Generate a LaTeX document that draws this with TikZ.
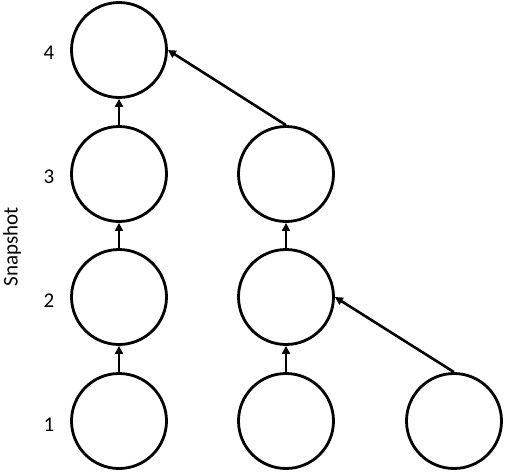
\documentclass[tikz,border=0pt]{standalone}
\usepackage{fontspec}
\setmainfont{Carlito}
\usetikzlibrary{arrows.meta}
\begin{document}
\begin{tikzpicture}[x=1pt,y=-1pt,
  snap/.style={draw=black,line width=2.8pt,circle,minimum size=95pt,inner sep=0pt},
  link/.style={line width=2.6pt,-{Triangle[length=8pt,width=8pt]}},
  lbl/.style={font=\fontsize{21}{24}\selectfont,inner sep=0pt}]
\useasboundingbox (0,0) rectangle (505,474);
\node[snap] (a4) at (119,50) {};
\node[snap] (a3) at (119,174) {};
\node[snap] (a2) at (119,297) {};
\node[snap] (a1) at (119,421) {};
\node[snap] (b3) at (286,174) {};
\node[snap] (b2) at (286,297) {};
\node[snap] (b1) at (286,421) {};
\node[snap] (c1) at (454,421) {};
\node[lbl] (l4) at (49,53) {4};
\node[lbl] (l3) at (49,177) {3};
\node[lbl] (l2) at (49,301) {2};
\node[lbl] (l1) at (49,425) {1};
\node[lbl,rotate=90] (ax) at (12,247) {Snapshot};
\draw[link] (a1.north) -- (a2.south);
\draw[link] (a2.north) -- (a3.south);
\draw[link] (a3.north) -- (a4.south);
\draw[link] (b1.north) -- (b2.south);
\draw[link] (b2.north) -- (b3.south);
\draw[link] (b3.north) -- (a4.east);
\draw[link] (c1.north) -- (b2.east);
\end{tikzpicture}
\end{document}
